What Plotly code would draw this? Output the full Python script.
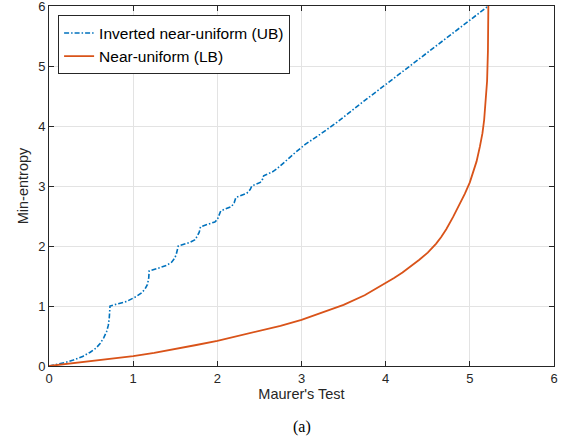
import plotly.graph_objects as go

# Inverted near-uniform (UB)
ub_x = [0.0, 0.1, 0.2, 0.29, 0.4, 0.49, 0.56, 0.61, 0.65, 0.685, 0.705, 0.716, 0.722, 0.725,
        0.8, 0.92, 1.04, 1.10, 1.14, 1.17, 1.185, 1.19,
        1.32, 1.40, 1.457, 1.49, 1.51, 1.528, 1.536,
        1.675, 1.73, 1.76, 1.785, 1.80,
        1.97, 2.0, 2.02, 2.04,
        2.17, 2.2, 2.22,
        2.35, 2.39, 2.41,
        2.51, 2.54, 2.55,
        2.66, 2.71, 2.74,
        2.80, 2.92, 3.04, 3.22, 3.42, 3.7, 4.0, 4.5, 5.0, 5.22]
ub_y = [0.0, 0.025, 0.06, 0.10, 0.16, 0.23, 0.30, 0.38, 0.47, 0.575, 0.68, 0.80, 0.90, 1.0,
        1.03, 1.075, 1.16, 1.22, 1.28, 1.36, 1.47, 1.585,
        1.64, 1.68, 1.73, 1.79, 1.85, 1.93, 2.0,
        2.06, 2.10, 2.16, 2.23, 2.32,
        2.40, 2.44, 2.50, 2.585,
        2.66, 2.72, 2.807,
        2.88, 2.94, 3.0,
        3.06, 3.12, 3.17,
        3.24, 3.29, 3.33,
        3.40, 3.55, 3.69, 3.86, 4.06, 4.37, 4.69, 5.22, 5.76, 6.0]

# Near-uniform (LB)
lb_x = [0.0, 0.25, 0.5, 0.75, 1.0, 1.25, 1.5, 1.75, 2.0, 2.25, 2.5, 2.75, 3.0, 3.25, 3.5, 3.75,
        4.0, 4.1, 4.2, 4.3, 4.4, 4.5, 4.6, 4.66, 4.72, 4.8, 4.88, 4.94, 5.0, 5.04, 5.08, 5.12,
        5.15, 5.17, 5.19, 5.205, 5.215, 5.22]
lb_y = [0.0, 0.04, 0.08, 0.12, 0.165, 0.22, 0.28, 0.35, 0.42, 0.50, 0.58, 0.67, 0.77, 0.89, 1.02, 1.18,
        1.38, 1.465, 1.56, 1.66, 1.77, 1.89, 2.04, 2.15, 2.28, 2.48, 2.69, 2.87, 3.06, 3.22, 3.41, 3.66,
        3.88, 4.1, 4.4, 4.75, 5.25, 6.0]

x_ticks = [0, 1, 2, 3, 4, 5, 6]
y_ticks = [0, 1, 2, 3, 4, 5, 6]

FONT = "Liberation Sans, Arial, Helvetica"

fig = go.Figure()
fig.add_trace(go.Scatter(x=ub_x, y=ub_y, mode="lines", name="Inverted near-uniform (UB)",
                         line=dict(color="#0072BD", width=1.6, dash="5px,2px,1.5px,2px")))
fig.add_trace(go.Scatter(x=lb_x, y=lb_y, mode="lines", name="Near-uniform (LB)",
                         line=dict(color="#D95319", width=1.8)))

axis_common = dict(
    showline=True, linecolor="#262626", linewidth=1, mirror="ticks",
    ticks="inside", ticklen=5, tickcolor="#262626",
    showgrid=True, gridcolor="#E3E3E3", gridwidth=1, zeroline=False,
    tickfont=dict(family=FONT, size=13, color="#262626"),
    automargin=False, ticklabeloverflow="allow",
)
fig.update_xaxes(range=[0, 6], tickvals=x_ticks,
                 title=dict(text="Maurer's Test", font=dict(family=FONT, size=14.5, color="#262626"), standoff=4),
                 **axis_common)
fig.update_yaxes(range=[0, 6], tickvals=y_ticks,
                 title=dict(text="Min-entropy", font=dict(family=FONT, size=14.5, color="#262626"), standoff=6),
                 **axis_common)

fig.update_layout(
    width=569, height=447,
    margin=dict(l=49, r=15, t=6, b=81),
    plot_bgcolor="white", paper_bgcolor="white",
    legend=dict(x=0.018, y=0.974, xanchor="left", yanchor="top",
                bordercolor="#262626", borderwidth=1, bgcolor="white",
                font=dict(family=FONT, size=15.5, color="#000000"),
                tracegroupgap=0),
    annotations=[dict(text="(a)", x=0.5, y=-0.17, xref="paper", yref="paper",
                      showarrow=False, xanchor="center", yanchor="middle",
                      font=dict(family="Liberation Serif, Times New Roman", size=16, color="#000000"))],
)

fig.write_html("out.html", config={"displayModeBar": False},
               post_script="document.body.style.margin='0';document.body.style.padding='0';")
